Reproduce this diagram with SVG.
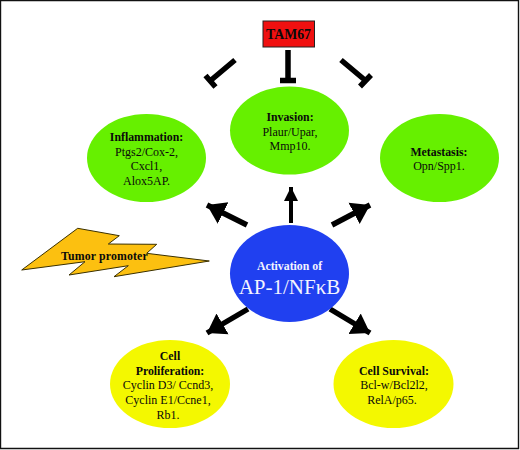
<svg xmlns="http://www.w3.org/2000/svg" width="520" height="450" viewBox="0 0 520 450">
<style>
text{font-family:"Liberation Serif","Times New Roman",serif;font-size:12px;text-anchor:middle;fill:#0a0a0a}
.b{font-weight:bold;font-size:11.800px}
.g{fill:#66f000}
.y{fill:#f4f800}
.c{stroke:#000;fill:none;stroke-width:5.500}
</style>
<defs>
<marker id="a" markerUnits="userSpaceOnUse" markerWidth="20" markerHeight="26" refX="18" refY="13" orient="auto"><path d="M0 1L18 13L0 25z" fill="#000"/></marker>
<marker id="u" markerUnits="userSpaceOnUse" markerWidth="16" markerHeight="16" refX="14" refY="8" orient="auto"><path d="M0 1L14 8L0 15z" fill="#000"/></marker>
</defs>
<rect width="520" height="450" fill="#fff"/>
<path d="M.5 .5H518.500V448.500H.5z" fill="none" stroke="#111" stroke-width="1.400"/>
<g id="connectors">
<path class="c" marker-end="url(#a)" d="M247 225L207 205"/>
<path class="c" style="stroke-width:4" marker-end="url(#u)" d="M291 223V187"/>
<path class="c" marker-end="url(#a)" d="M332 225L370 205"/>
<path class="c" marker-end="url(#a)" d="M248 309L207 333"/>
<path class="c" marker-end="url(#a)" d="M330 309L370 333"/>
<path class="c" d="M235 60L210 81M205.500 75.500L215.500 87"/>
<path class="c" d="M288 50V80M280 80.500H296"/>
<path class="c" d="M341 60L366 81M360 86.500L371 75"/>
</g>
<g id="tam67"><rect x="263" y="21" width="51.500" height="26" fill="#f01010" stroke="#222"/><text class="b" x="288.500" y="39" style="font-size:13.800px">TAM67</text></g>
<g id="inflammation"><ellipse class="g" cx="146.500" cy="158" rx="59.500" ry="44"/><text class="b" x="146.500" y="141">Inflammation:</text><text x="146.500" y="155.500">Ptgs2/Cox-2,</text><text x="146.500" y="170">Cxcl1,</text><text x="146.500" y="185">Alox5AP.</text></g>
<g id="invasion"><ellipse class="g" cx="289.500" cy="130.500" rx="59.500" ry="44"/><text class="b" x="290" y="121">Invasion:</text><text x="290" y="135.500">Plaur/Upar,</text><text x="290" y="150">Mmp10.</text></g>
<g id="metastasis"><ellipse class="g" cx="439.500" cy="158" rx="59.500" ry="44"/><text class="b" x="439" y="155.500">Metastasis:</text><text x="439" y="170">Opn/Spp1.</text></g>
<g id="tumor-promoter"><path d="M21.700 270L77.700 228.300L119.300 235.700L108.300 244L156.700 244.300L146.700 253.300L209.300 261L114 276.700L128.300 265.700L69 275L85 261.700z" fill="#fcc010" stroke="#3a3000"/><text class="b" x="104.500" y="260" style="letter-spacing:.15px">Tumor promoter</text></g>
<g id="activation"><ellipse cx="289.500" cy="273.500" rx="59.500" ry="48.500" fill="#2040f0"/><text class="b" x="289.500" y="270" style="fill:#f4f4ff">Activation of</text><text x="289.500" y="294" style="fill:#f4f4ff;font-size:21px">AP-1/NFκB</text></g>
<g id="proliferation"><ellipse class="y" cx="170" cy="384" rx="60" ry="44"/><text class="b" x="170" y="360">Cell</text><text class="b" x="170" y="374.500">Proliferation:</text><text x="168" y="389">Cyclin D3/ Ccnd3,</text><text x="168" y="404">Cyclin E1/Ccne1,</text><text x="168" y="418.500">Rb1.</text></g>
<g id="survival"><ellipse class="y" cx="393.500" cy="384" rx="60" ry="44"/><text class="b" x="394" y="374.500">Cell Survival:</text><text x="394" y="389">Bcl-w/Bcl2l2,</text><text x="392" y="404">RelA/p65.</text></g>
</svg>
